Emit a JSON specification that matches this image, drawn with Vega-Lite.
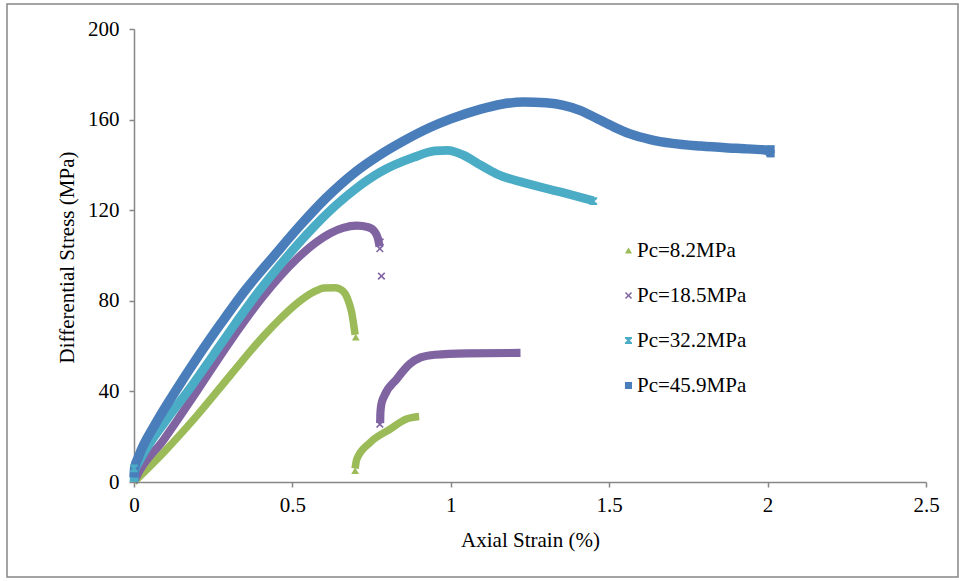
{
  "$schema": "https://vega.github.io/schema/vega-lite/v6.json",
  "width": 951,
  "height": 573,
  "autosize": {"type": "none"},
  "padding": {"left": 7, "top": 4, "right": 1, "bottom": 4},
  "background": "white",
  "config": {
    "font": "Liberation Serif",
    "view": {"stroke": "#878787", "strokeWidth": 1.5},
    "axis": {
      "grid": false,
      "domainColor": "#878787",
      "domainWidth": 1.5,
      "tickColor": "#878787",
      "tickWidth": 1.5,
      "tickSize": 5,
      "labelFont": "Liberation Serif",
      "labelColor": "#000000",
      "labelFlush": false,
      "labelOverlap": false,
      "titleFont": "Liberation Serif",
      "titleFontWeight": "normal",
      "titleColor": "#000000"
    },
    "legend": {
      "labelFont": "Liberation Serif",
      "labelFontSize": 21,
      "labelColor": "#000000"
    }
  },
  "datasets": {
    "curves": [
      {"series": "Pc=8.2MPa", "seg": "a", "x": 0, "y": 0},
      {"series": "Pc=8.2MPa", "seg": "a", "x": 0.093, "y": 13},
      {"series": "Pc=8.2MPa", "seg": "a", "x": 0.198, "y": 29.2},
      {"series": "Pc=8.2MPa", "seg": "a", "x": 0.303, "y": 46.9},
      {"series": "Pc=8.2MPa", "seg": "a", "x": 0.408, "y": 64.3},
      {"series": "Pc=8.2MPa", "seg": "a", "x": 0.461, "y": 72},
      {"series": "Pc=8.2MPa", "seg": "a", "x": 0.514, "y": 78.8},
      {"series": "Pc=8.2MPa", "seg": "a", "x": 0.566, "y": 83.8},
      {"series": "Pc=8.2MPa", "seg": "a", "x": 0.6, "y": 85.7},
      {"series": "Pc=8.2MPa", "seg": "a", "x": 0.635, "y": 85.8},
      {"series": "Pc=8.2MPa", "seg": "a", "x": 0.658, "y": 84.5},
      {"series": "Pc=8.2MPa", "seg": "a", "x": 0.674, "y": 81},
      {"series": "Pc=8.2MPa", "seg": "a", "x": 0.687, "y": 74.9},
      {"series": "Pc=8.2MPa", "seg": "a", "x": 0.698, "y": 65},
      {"series": "Pc=8.2MPa", "seg": "b", "x": 0.698, "y": 6},
      {"series": "Pc=8.2MPa", "seg": "b", "x": 0.703, "y": 10},
      {"series": "Pc=8.2MPa", "seg": "b", "x": 0.745, "y": 17.4},
      {"series": "Pc=8.2MPa", "seg": "b", "x": 0.808, "y": 23.3},
      {"series": "Pc=8.2MPa", "seg": "b", "x": 0.86, "y": 27.8},
      {"series": "Pc=8.2MPa", "seg": "b", "x": 0.9, "y": 28.9},
      {"series": "Pc=18.5MPa", "seg": "c", "x": 0, "y": 0},
      {"series": "Pc=18.5MPa", "seg": "c", "x": 0.01, "y": 3},
      {"series": "Pc=18.5MPa", "seg": "c", "x": 0.093, "y": 18.5},
      {"series": "Pc=18.5MPa", "seg": "c", "x": 0.198, "y": 40},
      {"series": "Pc=18.5MPa", "seg": "c", "x": 0.303, "y": 62},
      {"series": "Pc=18.5MPa", "seg": "c", "x": 0.408, "y": 82},
      {"series": "Pc=18.5MPa", "seg": "c", "x": 0.514, "y": 98.5},
      {"series": "Pc=18.5MPa", "seg": "c", "x": 0.57, "y": 105.3},
      {"series": "Pc=18.5MPa", "seg": "c", "x": 0.619, "y": 109.8},
      {"series": "Pc=18.5MPa", "seg": "c", "x": 0.66, "y": 112.2},
      {"series": "Pc=18.5MPa", "seg": "c", "x": 0.703, "y": 113.2},
      {"series": "Pc=18.5MPa", "seg": "c", "x": 0.74, "y": 112.5},
      {"series": "Pc=18.5MPa", "seg": "c", "x": 0.76, "y": 110.5},
      {"series": "Pc=18.5MPa", "seg": "c", "x": 0.77, "y": 107.5},
      {"series": "Pc=18.5MPa", "seg": "c", "x": 0.775, "y": 104},
      {"series": "Pc=18.5MPa", "seg": "d", "x": 0.777, "y": 26},
      {"series": "Pc=18.5MPa", "seg": "d", "x": 0.778, "y": 31},
      {"series": "Pc=18.5MPa", "seg": "d", "x": 0.781, "y": 34.5},
      {"series": "Pc=18.5MPa", "seg": "d", "x": 0.79, "y": 38},
      {"series": "Pc=18.5MPa", "seg": "d", "x": 0.829, "y": 45.4},
      {"series": "Pc=18.5MPa", "seg": "d", "x": 0.87, "y": 52},
      {"series": "Pc=18.5MPa", "seg": "d", "x": 0.905, "y": 55},
      {"series": "Pc=18.5MPa", "seg": "d", "x": 0.95, "y": 56.2},
      {"series": "Pc=18.5MPa", "seg": "d", "x": 1.05, "y": 56.8},
      {"series": "Pc=18.5MPa", "seg": "d", "x": 1.22, "y": 57},
      {"series": "Pc=32.2MPa", "seg": "e", "x": 0, "y": 0},
      {"series": "Pc=32.2MPa", "seg": "e", "x": 0.003, "y": 5},
      {"series": "Pc=32.2MPa", "seg": "e", "x": 0.02, "y": 10},
      {"series": "Pc=32.2MPa", "seg": "e", "x": 0.1, "y": 27},
      {"series": "Pc=32.2MPa", "seg": "e", "x": 0.18, "y": 42},
      {"series": "Pc=32.2MPa", "seg": "e", "x": 0.25, "y": 56},
      {"series": "Pc=32.2MPa", "seg": "e", "x": 0.32, "y": 70},
      {"series": "Pc=32.2MPa", "seg": "e", "x": 0.393, "y": 84},
      {"series": "Pc=32.2MPa", "seg": "e", "x": 0.48, "y": 99},
      {"series": "Pc=32.2MPa", "seg": "e", "x": 0.57, "y": 113},
      {"series": "Pc=32.2MPa", "seg": "e", "x": 0.64, "y": 122.5},
      {"series": "Pc=32.2MPa", "seg": "e", "x": 0.7, "y": 129.5},
      {"series": "Pc=32.2MPa", "seg": "e", "x": 0.777, "y": 136.8},
      {"series": "Pc=32.2MPa", "seg": "e", "x": 0.882, "y": 143.3},
      {"series": "Pc=32.2MPa", "seg": "e", "x": 0.95, "y": 146.2},
      {"series": "Pc=32.2MPa", "seg": "e", "x": 0.99, "y": 146.4},
      {"series": "Pc=32.2MPa", "seg": "e", "x": 1.04, "y": 144.3},
      {"series": "Pc=32.2MPa", "seg": "e", "x": 1.093, "y": 140},
      {"series": "Pc=32.2MPa", "seg": "e", "x": 1.145, "y": 136},
      {"series": "Pc=32.2MPa", "seg": "e", "x": 1.229, "y": 132.2},
      {"series": "Pc=32.2MPa", "seg": "e", "x": 1.356, "y": 127.7},
      {"series": "Pc=32.2MPa", "seg": "e", "x": 1.45, "y": 124.2},
      {"series": "Pc=45.9MPa", "seg": "f", "x": 0, "y": 2},
      {"series": "Pc=45.9MPa", "seg": "f", "x": 0.002, "y": 6},
      {"series": "Pc=45.9MPa", "seg": "f", "x": 0.014, "y": 11},
      {"series": "Pc=45.9MPa", "seg": "f", "x": 0.069, "y": 26},
      {"series": "Pc=45.9MPa", "seg": "f", "x": 0.135, "y": 41},
      {"series": "Pc=45.9MPa", "seg": "f", "x": 0.205, "y": 56},
      {"series": "Pc=45.9MPa", "seg": "f", "x": 0.277, "y": 70.5},
      {"series": "Pc=45.9MPa", "seg": "f", "x": 0.353, "y": 85},
      {"series": "Pc=45.9MPa", "seg": "f", "x": 0.44, "y": 99.5},
      {"series": "Pc=45.9MPa", "seg": "f", "x": 0.526, "y": 113.5},
      {"series": "Pc=45.9MPa", "seg": "f", "x": 0.607, "y": 125.5},
      {"series": "Pc=45.9MPa", "seg": "f", "x": 0.7, "y": 137},
      {"series": "Pc=45.9MPa", "seg": "f", "x": 0.777, "y": 144.5},
      {"series": "Pc=45.9MPa", "seg": "f", "x": 0.85, "y": 150.5},
      {"series": "Pc=45.9MPa", "seg": "f", "x": 0.934, "y": 156.5},
      {"series": "Pc=45.9MPa", "seg": "f", "x": 1.0, "y": 160.3},
      {"series": "Pc=45.9MPa", "seg": "f", "x": 1.092, "y": 164.5},
      {"series": "Pc=45.9MPa", "seg": "f", "x": 1.16, "y": 166.8},
      {"series": "Pc=45.9MPa", "seg": "f", "x": 1.229, "y": 167.8},
      {"series": "Pc=45.9MPa", "seg": "f", "x": 1.3, "y": 167.4},
      {"series": "Pc=45.9MPa", "seg": "f", "x": 1.356, "y": 166.3},
      {"series": "Pc=45.9MPa", "seg": "f", "x": 1.41, "y": 164},
      {"series": "Pc=45.9MPa", "seg": "f", "x": 1.461, "y": 160.5},
      {"series": "Pc=45.9MPa", "seg": "f", "x": 1.514, "y": 156.8},
      {"series": "Pc=45.9MPa", "seg": "f", "x": 1.566, "y": 153.7},
      {"series": "Pc=45.9MPa", "seg": "f", "x": 1.63, "y": 151.2},
      {"series": "Pc=45.9MPa", "seg": "f", "x": 1.7, "y": 149.5},
      {"series": "Pc=45.9MPa", "seg": "f", "x": 1.79, "y": 148.3},
      {"series": "Pc=45.9MPa", "seg": "f", "x": 1.9, "y": 147.3},
      {"series": "Pc=45.9MPa", "seg": "f", "x": 2.0, "y": 146.5},
      {"series": "Pc=45.9MPa", "seg": "f", "x": 2.01, "y": 144.5}
    ],
    "markers": [
      {"s": "Pc=8.2MPa", "x": 0.698, "y": 5},
      {"s": "Pc=8.2MPa", "x": 0.699, "y": 8},
      {"s": "Pc=8.2MPa", "x": 0.7, "y": 64},
      {"s": "Pc=18.5MPa", "x": 0.776, "y": 103},
      {"s": "Pc=18.5MPa", "x": 0.777, "y": 106},
      {"s": "Pc=18.5MPa", "x": 0.781, "y": 90.9},
      {"s": "Pc=18.5MPa", "x": 0.776, "y": 25.5},
      {"s": "Pc=18.5MPa", "x": 0.777, "y": 28.5},
      {"s": "Pc=32.2MPa", "x": 1.45, "y": 124},
      {"s": "Pc=32.2MPa", "x": 0.0, "y": 6},
      {"s": "Pc=45.9MPa", "x": 2.01, "y": 145},
      {"s": "Pc=45.9MPa", "x": 2.01, "y": 147}
    ]
  },
  "layer": [
    {
      "data": {"name": "curves"},
      "mark": {"type": "line", "strokeCap": "butt", "strokeJoin": "round", "interpolate": "monotone"},
      "encoding": {
        "x": {
          "field": "x",
          "type": "quantitative",
          "scale": {"domain": [0, 2.5], "range": [127, 919], "nice": false, "zero": false},
          "axis": {
            "title": "Axial Strain (%)",
            "values": [0, 0.5, 1, 1.5, 2, 2.5],
            "format": "~g",
            "offset": -95,
            "labelFontSize": 21,
            "titleFontSize": 21,
            "labelPadding": 7,
            "titlePadding": 14
          }
        },
        "y": {
          "field": "y",
          "type": "quantitative",
          "scale": {"domain": [0, 200], "range": [478, 25], "nice": false, "zero": false},
          "axis": {
            "title": "Differential Stress (MPa)",
            "values": [0, 40, 80, 120, 160, 200],
            "offset": -127,
            "labelFontSize": 21,
            "titleFontSize": 21,
            "labelPadding": 10,
            "titlePadding": 10,
            "titleY": 253
          }
        },
        "detail": {"field": "seg", "type": "nominal"},
        "stroke": {
          "field": "series",
          "type": "nominal",
          "scale": {
            "domain": ["Pc=45.9MPa", "Pc=32.2MPa", "Pc=18.5MPa", "Pc=8.2MPa"],
            "range": ["#4a7ebb", "#4bacc6", "#8064a2", "#9bbb59"]
          },
          "legend": null
        },
        "strokeWidth": {
          "field": "series",
          "type": "ordinal",
          "scale": {
            "domain": ["Pc=45.9MPa", "Pc=32.2MPa", "Pc=18.5MPa", "Pc=8.2MPa"],
            "range": [9.5, 7.5, 7, 7.5]
          },
          "legend": null
        }
      }
    },
    {
      "data": {"name": "markers"},
      "mark": {"type": "point", "filled": true, "opacity": 1, "size": 60},
      "encoding": {
        "x": {"field": "x", "type": "quantitative"},
        "y": {"field": "y", "type": "quantitative"},
        "color": {
          "field": "s",
          "type": "nominal",
          "scale": {
            "domain": ["Pc=8.2MPa", "Pc=18.5MPa", "Pc=32.2MPa", "Pc=45.9MPa"],
            "range": ["#9bbb59", "#8064a2", "#4bacc6", "#4a7ebb"]
          },
          "legend": {
            "title": null,
            "orient": "none",
            "legendX": 611,
            "legendY": 236,
            "padding": 0,
            "rowPadding": 23,
            "labelOffset": -2,
            "symbolSize": 50,
            "symbolStrokeWidth": 0
          }
        },
        "shape": {
          "field": "s",
          "type": "nominal",
          "scale": {
            "domain": ["Pc=8.2MPa", "Pc=18.5MPa", "Pc=32.2MPa", "Pc=45.9MPa"],
            "range": [
              "triangle-up",
              "M-1,-0.7L-0.7,-1L0,-0.3L0.7,-1L1,-0.7L0.3,0L1,0.7L0.7,1L0,0.3L-0.7,1L-1,0.7L-0.3,0Z",
              "M-1,-1L1,-1L1,-0.6L0.3,0L1,0.6L1,1L-1,1L-1,0.6L-0.3,0L-1,-0.6Z",
              "square"
            ]
          },
          "legend": {
            "title": null,
            "orient": "none",
            "legendX": 611,
            "legendY": 236,
            "padding": 0,
            "rowPadding": 23,
            "labelOffset": -2,
            "symbolSize": 50,
            "symbolStrokeWidth": 0
          }
        }
      }
    }
  ]
}
